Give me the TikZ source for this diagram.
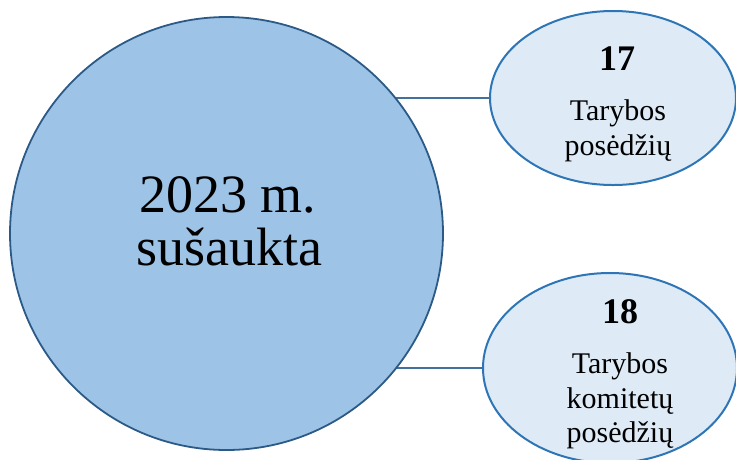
\documentclass[tikz,border=0pt]{standalone}
\usepackage{fontspec}
\setmainfont{Liberation Serif}
\usetikzlibrary{shapes.geometric}
\pgfdeclarelayer{background}
\pgfsetlayers{background,main}
\definecolor{bigfill}{HTML}{9DC3E6}
\definecolor{bigline}{HTML}{2C5A87}
\definecolor{smallfill}{HTML}{DEEBF7}
\definecolor{smallline}{HTML}{2E75B6}
\definecolor{conn}{HTML}{41719C}
\tikzset{
  bigcircle/.style={circle, fill=bigfill, draw=bigline, line width=1.8pt, minimum size=433pt, inner sep=0pt},
  smallell/.style={ellipse, fill=smallfill, draw=smallline, line width=2pt, inner sep=0pt},
  connector/.style={draw=conn, line width=2pt},
  bigtext/.style={anchor=base, inner sep=0pt, font=\fontsize{54}{54}\selectfont},
  numtext/.style={anchor=base, inner sep=0pt, font=\fontsize{36}{36}\selectfont\bfseries},
  lbltext/.style={anchor=base, inner sep=0pt, font=\fontsize{30}{30}\selectfont},
}
\begin{document}
\begin{tikzpicture}[x=1pt,y=-1pt]
\useasboundingbox (0,0) rectangle (736,459);
\node[bigcircle] (big) at (226.5,233.5) {};
\node[smallell, minimum width=246pt, minimum height=174pt] (top) at (613,98) {};
\node[smallell, minimum width=254pt, minimum height=190pt] (bot) at (610,368) {};
\begin{pgfonlayer}{background}
\draw[connector] (top.west) -- (top.west -| big.center);
\draw[connector] (bot.west) -- (bot.west -| big.center);
\end{pgfonlayer}
\node[bigtext] (b1) at (227.5,212) {2023 m.};
\node[bigtext] (b2) at (229,265) {sušaukta};
\node[numtext] (t1) at (617,70) {17};
\node[lbltext] (t2) at (618,120) {Tarybos};
\node[lbltext] (t3) at (618,155) {posėdžių};
\node[numtext] (u1) at (620,323) {18};
\node[lbltext] (u2) at (620,373) {Tarybos};
\node[lbltext] (u3) at (620,408) {komitetų};
\node[lbltext] (u4) at (620,442) {posėdžių};
\end{tikzpicture}
\end{document}
